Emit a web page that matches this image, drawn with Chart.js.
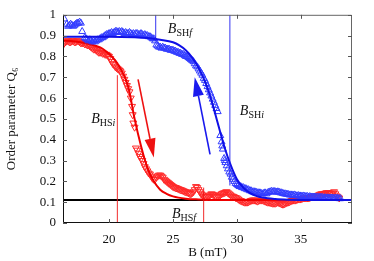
<!DOCTYPE html>
<html>
<head>
<meta charset="utf-8">
<script src="https://cdn.jsdelivr.net/npm/chart.js@4.4.0/dist/chart.umd.min.js"></script>
<style>
html,body{margin:0;padding:0;background:#fff}
</style>
</head>
<body>
<canvas id="grafico" width="374" height="261"></canvas>
<script>
// campo B (mT) e parametro de ordem Q6 - subida (azul, triangulos para cima)
const blueB = [16.5,16.7,16.8,16.9,17.0,17.1,17.2,17.3,17.4,17.5,17.6,17.7,17.8,17.9,18.1,18.2,18.3,18.4,18.5,18.6,18.7,18.8,18.9,19.0,19.1,19.2,19.3,19.4,19.5,19.6,19.7,19.8,19.9,20.0,20.1,20.2,20.3,20.4,20.5,20.6,20.7,20.8,20.9,21.0,21.1,21.2,21.3,21.4,21.5,21.6,21.7,21.8,21.9,22.0,22.1,22.2,22.3,22.4,22.5,22.6,22.7,22.8,22.9,23.0,23.1,23.2,23.3,23.4,23.5,23.6,23.7,23.8,23.9,24.0,24.1,24.2,24.3,24.4,24.5,24.6,24.7,24.8,24.9,25.0,25.1,25.2,25.3,25.4,25.5,25.6,25.7,25.8,25.9,26.0,26.1,26.2,26.3,26.4,26.5,26.6,26.7,26.8,26.9,27.0,27.1,27.2,27.3,27.4,27.5,27.6,27.7,27.8,27.9,28.0,28.1,28.2,28.3,28.4,28.5,28.7,28.8,28.85,28.9,29.0,29.05,29.1,29.2,29.3,29.4,29.5,29.6,29.7,29.8,29.9,30.0,30.1,30.2,30.3,30.4,30.5,30.6,30.7,30.8,30.9,31.0,31.1,31.2,31.3,31.4,31.5,31.6,31.7,31.8,31.9,32.0,32.1,32.2,32.3,32.4,32.5,32.6,32.7,32.8,32.9,33.0,33.1,33.2,33.3,33.4,33.5,33.6,33.7,33.8,33.9,34.0,34.1,34.2,34.3,34.4,34.5,34.6,34.7,34.8,34.9,35.0,35.1,35.2,35.3,35.4,35.5,35.6,35.7,35.8,35.9,36.0,36.1,36.2,36.3,36.4,36.5,36.6,36.7,36.8,36.9,37.0,37.1,37.2,37.3,37.4,37.5,37.6,37.7,37.8,37.9,38.0,38.1]
const blueQ = [0.98,0.955,0.945,0.95,0.955,0.95,0.945,0.95,0.955,0.96,0.96,0.965,0.96,0.92,0.89,0.885,0.88,0.875,0.88,0.875,0.87,0.875,0.87,0.875,0.88,0.88,0.885,0.89,0.89,0.895,0.9,0.905,0.905,0.91,0.91,0.915,0.91,0.915,0.92,0.92,0.915,0.92,0.915,0.92,0.915,0.91,0.915,0.91,0.91,0.915,0.91,0.905,0.91,0.905,0.91,0.91,0.905,0.905,0.91,0.905,0.9,0.905,0.9,0.9,0.895,0.895,0.89,0.885,0.885,0.875,0.855,0.85,0.845,0.845,0.84,0.845,0.84,0.84,0.835,0.835,0.835,0.83,0.83,0.83,0.825,0.825,0.82,0.82,0.815,0.815,0.81,0.81,0.805,0.8,0.8,0.795,0.79,0.785,0.78,0.775,0.765,0.755,0.75,0.74,0.73,0.72,0.71,0.695,0.685,0.67,0.655,0.64,0.625,0.61,0.595,0.58,0.565,0.55,0.535,0.42,0.39,0.37,0.355,0.31,0.3,0.29,0.275,0.26,0.245,0.235,0.22,0.21,0.2,0.19,0.185,0.18,0.175,0.175,0.17,0.17,0.165,0.165,0.16,0.16,0.155,0.155,0.15,0.15,0.15,0.148,0.145,0.145,0.145,0.142,0.14,0.142,0.145,0.14,0.145,0.148,0.15,0.152,0.15,0.152,0.15,0.148,0.15,0.148,0.145,0.145,0.142,0.14,0.14,0.138,0.138,0.135,0.135,0.135,0.133,0.135,0.132,0.13,0.132,0.13,0.13,0.128,0.13,0.128,0.127,0.128,0.125,0.127,0.125,0.125,0.124,0.125,0.123,0.125,0.122,0.124,0.122,0.123,0.12,0.122,0.12,0.121,0.12,0.12,0.119,0.12,0.118,0.12,0.118,0.119,0.117,0.117]

// descida (vermelho, triangulos para baixo)
const redB = [16.4,16.5,16.6,16.7,16.8,16.9,17.0,17.1,17.2,17.3,17.4,17.5,17.6,17.7,17.8,17.9,18.0,18.1,18.2,18.3,18.4,18.5,18.6,18.7,18.8,18.9,19.0,19.1,19.2,19.3,19.4,19.5,19.6,19.7,19.8,19.9,20.0,20.1,20.2,20.3,20.4,20.5,20.6,20.7,20.8,20.9,21.0,21.1,21.2,21.3,21.4,21.5,21.6,21.7,21.8,21.85,21.9,22.0,22.1,22.2,22.3,22.4,22.5,22.6,22.7,22.8,22.9,23.0,23.1,23.2,23.3,23.4,23.5,23.6,23.7,23.8,23.9,24.0,24.1,24.2,24.3,24.4,24.5,24.6,24.7,24.8,24.9,25.0,25.1,25.2,25.3,25.4,25.5,25.6,25.7,25.8,25.9,26.0,26.1,26.2,26.3,26.4,26.5,26.6,26.7,26.8,26.9,27.0,27.1,27.2,27.3,27.4,27.5,27.6,27.7,27.8,27.9,28.0,28.1,28.2,28.3,28.4,28.5,28.6,28.7,28.8,28.9,29.0,29.1,29.2,29.3,29.4,29.5,29.6,29.7,29.8,29.9,30.0,30.1,30.2,30.3,30.4,30.5,30.6,30.7,30.8,30.9,31.0,31.1,31.2,31.3,31.4,31.5,31.6,31.7,31.8,31.9,32.0,32.1,32.2,32.3,32.4,32.5,32.6,32.7,32.8,32.9,33.0,33.1,33.2,33.3,33.4,33.5,33.6,33.7,33.8,33.9,34.0,34.1,34.2,34.3,34.4,34.5,34.6,34.7,34.8,34.9,35.0,35.1,35.2,35.3,35.4,35.5,35.6,35.7,35.8,35.9,36.0,36.1,36.2,36.3,36.4,36.5,36.6,36.7,36.8,36.9,37.0,37.1,37.2,37.3,37.4,37.5,37.6,37.7,37.8,37.9,38.0]
const redQ = [0.855,0.865,0.87,0.875,0.875,0.87,0.87,0.875,0.875,0.87,0.87,0.875,0.875,0.87,0.865,0.865,0.865,0.86,0.86,0.855,0.855,0.85,0.845,0.84,0.835,0.835,0.83,0.825,0.82,0.82,0.82,0.815,0.815,0.81,0.81,0.805,0.8,0.79,0.775,0.765,0.76,0.75,0.745,0.74,0.735,0.73,0.72,0.705,0.69,0.675,0.66,0.645,0.63,0.6,0.56,0.52,0.48,0.46,0.36,0.35,0.335,0.32,0.31,0.3,0.285,0.27,0.26,0.25,0.24,0.235,0.225,0.215,0.21,0.21,0.22,0.225,0.23,0.23,0.225,0.22,0.21,0.205,0.2,0.195,0.19,0.185,0.18,0.175,0.172,0.17,0.168,0.165,0.162,0.16,0.158,0.155,0.152,0.15,0.148,0.145,0.142,0.14,0.145,0.15,0.16,0.175,0.17,0.16,0.15,0.14,0.135,0.13,0.127,0.125,0.127,0.13,0.135,0.14,0.138,0.135,0.13,0.125,0.128,0.13,0.135,0.14,0.143,0.145,0.148,0.15,0.145,0.14,0.135,0.13,0.128,0.125,0.122,0.12,0.115,0.11,0.108,0.105,0.102,0.1,0.1,0.1,0.102,0.105,0.108,0.11,0.11,0.11,0.108,0.105,0.108,0.11,0.11,0.11,0.108,0.105,0.102,0.1,0.1,0.098,0.097,0.095,0.095,0.095,0.098,0.1,0.097,0.095,0.092,0.09,0.092,0.095,0.098,0.1,0.102,0.105,0.108,0.11,0.11,0.11,0.113,0.115,0.115,0.115,0.118,0.12,0.12,0.12,0.12,0.12,0.122,0.125,0.125,0.125,0.128,0.13,0.132,0.135,0.138,0.14,0.14,0.14,0.143,0.145,0.145,0.145,0.142,0.14,0.145,0.15,0.14,0.13,0.125,0.12]

// curvas de ajuste
const blueFitB = [16.4,18,20,22,23,24,25,25.5,26,26.5,27,27.5,28,28.5,29,29.5,30,30.5,31,31.5,32,33,34,36,39]
const blueFitQ = [0.895,0.895,0.895,0.892,0.888,0.88,0.868,0.853,0.83,0.795,0.745,0.68,0.59,0.48,0.37,0.28,0.21,0.17,0.145,0.13,0.122,0.115,0.112,0.11,0.11]
const redFitB = [16.4,17,18,19,19.5,20,20.5,21,21.5,22,22.5,23,23.5,24,24.5,25,26,27,28,30,39]
const redFitQ = [0.875,0.874,0.866,0.85,0.837,0.812,0.78,0.73,0.655,0.5,0.37,0.265,0.2,0.16,0.14,0.128,0.117,0.113,0.111,0.11,0.11]

// linha de referencia Q6 e marcadores de campo
const baseQ = 0.11
const markB = [20.65, 27.4, 23.65, 29.45]   // BHSi, BHSf, BSHf, BSHi
const markFrom = [0, 0, 0.875, 0.18]
const markTo = [0.71, 0.17, 1, 1]

const xTicks = [20, 25, 30, 35]
const yTicks = [0, 0.1, 0.2, 0.3, 0.4, 0.5, 0.6, 0.7, 0.8, 0.9, 1]

const fonte = '"Liberation Serif", "Times New Roman", serif'

function pares(bs, qs){
    return bs.map((b, i) => ({x: b, y: qs[i]}))
}

function seta(ctx, x, y, b0, q0, b1, q1, cor){
    let x0 = x.getPixelForValue(b0), y0 = y.getPixelForValue(q0)
    let x1 = x.getPixelForValue(b1), y1 = y.getPixelForValue(q1)
    let ang = Math.atan2(y1 - y0, x1 - x0)
    let L = 19, W = 5.5
    let bx = x1 - L * Math.cos(ang), by = y1 - L * Math.sin(ang)
    ctx.strokeStyle = cor
    ctx.fillStyle = cor
    ctx.lineWidth = 1.6
    ctx.beginPath()
    ctx.moveTo(x0, y0)
    ctx.lineTo(bx, by)
    ctx.stroke()
    ctx.beginPath()
    ctx.moveTo(x1, y1)
    ctx.lineTo(bx + W * Math.sin(ang), by - W * Math.cos(ang))
    ctx.lineTo(bx - W * Math.sin(ang), by + W * Math.cos(ang))
    ctx.closePath()
    ctx.fill()
}

function rotulo(ctx, x, y, b, q, sub, subItal){
    let px = x.getPixelForValue(b), py = y.getPixelForValue(q)
    ctx.fillStyle = '#111'
    ctx.textAlign = 'left'
    ctx.textBaseline = 'alphabetic'
    ctx.font = 'italic 14px ' + fonte
    ctx.fillText('B', px, py)
    let w = ctx.measureText('B').width
    ctx.font = '10px ' + fonte
    ctx.fillText(sub, px + w, py + 3)
    let w2 = ctx.measureText(sub).width
    ctx.font = 'italic 10px ' + fonte
    ctx.fillText(subItal, px + w + w2, py + 3)
}

//PLUGIN: setas, rotulos, moldura com ticks para dentro
const moldura = {
    id: 'moldura',
    afterDatasetsDraw(chart){
        const {ctx, chartArea: a, scales: {x, y}} = chart
        ctx.save()
        seta(ctx, x, y, 22.27, 0.69, 23.5, 0.315, '#ee1111')
        seta(ctx, x, y, 27.9, 0.33, 26.7, 0.70, '#1a1aee')

        rotulo(ctx, x, y, 24.6, 0.914, 'SH', 'f')
        rotulo(ctx, x, y, 30.23, 0.517, 'SH', 'i')
        rotulo(ctx, x, y, 18.6, 0.478, 'HS', 'i')
        rotulo(ctx, x, y, 24.92, 0.024, 'HS', 'f')

        ctx.lineWidth = 1
        ctx.strokeStyle = '#666'
        ctx.beginPath()
        ctx.moveTo(a.left, a.top + 0.5); ctx.lineTo(a.right - 0.5, a.top + 0.5); ctx.lineTo(a.right - 0.5, a.bottom)
        ctx.stroke()
        ctx.strokeStyle = '#111'
        ctx.beginPath()
        ctx.moveTo(a.left + 0.5, a.top); ctx.lineTo(a.left + 0.5, a.bottom - 0.5); ctx.lineTo(a.right, a.bottom - 0.5)
        ctx.stroke()

        ctx.strokeStyle = '#555'
        ctx.beginPath()
        xTicks.forEach(t => {
            let p = Math.round(x.getPixelForValue(t)) + 0.5
            ctx.moveTo(p, a.bottom); ctx.lineTo(p, a.bottom - 4)
            ctx.moveTo(p, a.top); ctx.lineTo(p, a.top + 4)
        })
        yTicks.forEach(t => {
            let p = Math.round(y.getPixelForValue(t)) + 0.5
            ctx.moveTo(a.left, p); ctx.lineTo(a.left + 4, p)
            ctx.moveTo(a.right, p); ctx.lineTo(a.right - 4, p)
        })
        ctx.stroke()
        ctx.restore()
    }
}

function grafico(){
    let datasets = [
        {
            data: [{x: 16.4, y: baseQ}, {x: 39, y: baseQ}],
            borderColor: '#000', borderWidth: 2, pointRadius: 0, order: 10
        },
        {
            data: pares(redB, redQ),
            showLine: false, pointStyle: 'triangle', pointRotation: 180, pointRadius: 4,
            pointBorderColor: 'rgb(255,40,40)', pointBackgroundColor: 'rgba(0,0,0,0)', pointBorderWidth: 1, order: 9
        },
        {
            data: pares(redFitB, redFitQ),
            borderColor: '#ee0000', borderWidth: 2, pointRadius: 0, cubicInterpolationMode: 'monotone', order: 8
        },
        {
            data: pares(blueB, blueQ),
            showLine: false, pointStyle: 'triangle', pointRadius: 4,
            pointBorderColor: 'rgb(50,60,255)', pointBackgroundColor: 'rgba(0,0,0,0)', pointBorderWidth: 1, order: 7
        },
        {
            data: pares(blueFitB, blueFitQ),
            borderColor: '#1010e6', borderWidth: 2, pointRadius: 0, cubicInterpolationMode: 'monotone', order: 6
        }
    ]
    //linhas verticais dos campos
    markB.forEach((b, i) => {
        datasets.push({
            data: [{x: b, y: markFrom[i]}, {x: b, y: markTo[i]}],
            borderColor: i < 2 ? 'rgba(240,20,20,0.9)' : 'rgba(30,30,240,0.9)',
            borderWidth: 1, pointRadius: 0, order: 5
        })
    })

    var ctx = document.getElementById('grafico').getContext('2d')
    new Chart(ctx, {
        type: 'line',
        data: {datasets: datasets},
        options: {
            responsive: false,
            animation: false,
            layout: {padding: {left: 0, right: 22, top: 14, bottom: 0}},
            plugins: {legend: {display: false}, tooltip: {enabled: false}},
            scales: {
                x: {
                    type: 'linear', min: 16.4, max: 39,
                    afterBuildTicks: s => { s.ticks = xTicks.map(v => ({value: v})) },
                    afterFit: s => { s.height = 38 },
                    grid: {display: false, drawTicks: false},
                    border: {display: false},
                    ticks: {color: '#111', font: {family: fonte, size: 13}, padding: 9, maxRotation: 0},
                    title: {display: true, text: 'B (mT)', color: '#111', font: {family: fonte, size: 13}, padding: {top: 0, bottom: 1}}
                },
                y: {
                    type: 'linear', min: 0, max: 1,
                    afterBuildTicks: s => { s.ticks = yTicks.map(v => ({value: v})) },
                    afterFit: s => { s.width = 63 },
                    grid: {display: false, drawTicks: false},
                    border: {display: false},
                    ticks: {color: '#111', font: {family: fonte, size: 13}, padding: 7,
                        callback: v => String(Number(v.toFixed(1)))},
                    title: {display: true, text: 'Order parameter Q₆', color: '#111', font: {family: fonte, size: 13}, padding: {top: 4, bottom: 0}}
                }
            }
        },
        plugins: [moldura]
    })
}

grafico()
</script>
</body>
</html>
